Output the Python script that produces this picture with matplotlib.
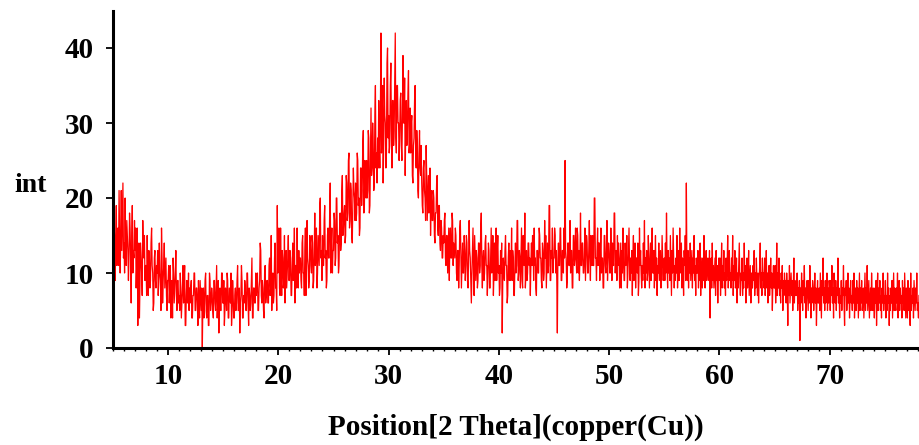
import numpy as np
import matplotlib
matplotlib.use("Agg")
import matplotlib.pyplot as plt
from matplotlib.ticker import MultipleLocator

# 2-theta start / step of the scan (degrees)
theta_start = 5.0
theta_step = 0.05

# intensity readings, 20 per degree (5.00 ... 78.10)
intensity = [
    12, 8, 17, 14, 9, 15, 19, 11, 13, 16, 11, 21, 16, 10, 14, 21, 13, 18, 22, 12,
    14, 10, 20, 13, 11, 17, 15, 13, 9, 12, 18, 16, 12, 6, 15, 19, 10, 13, 12, 17,
    13, 16, 8, 11, 16, 3, 11, 14, 4, 9, 14, 12, 10, 7, 17, 13, 12, 15, 9, 11,
    11, 7, 15, 10, 7, 13, 12, 8, 9, 14, 16, 11, 10, 5, 6, 12, 13, 9, 8, 11,
    10, 13, 7, 9, 14, 10, 9, 5, 16, 12, 6, 9, 11, 14, 8, 10, 12, 7, 5, 9,
    9, 11, 6, 8, 11, 4, 7, 9, 4, 12, 10, 6, 8, 10, 13, 7, 5, 9, 9, 6,
    7, 5, 10, 8, 4, 6, 8, 11, 6, 9, 11, 3, 3, 7, 9, 6, 7, 10, 5, 8,
    6, 8, 9, 4, 4, 7, 7, 10, 10, 5, 5, 8, 8, 6, 3, 9, 6, 4, 9, 7,
    5, 8, 0, 6, 8, 4, 6, 9, 10, 5, 4, 7, 7, 3, 3, 10, 9, 5, 6, 8,
    7, 5, 4, 9, 9, 6, 5, 8, 11, 4, 6, 9, 2, 7, 8, 5, 5, 10, 10, 6,
    6, 9, 3, 5, 8, 7, 5, 10, 9, 4, 4, 8, 7, 6, 10, 3, 5, 9, 7, 4,
    4, 7, 8, 5, 6, 9, 11, 5, 5, 8, 2, 6, 7, 11, 9, 4, 4, 7, 6, 9,
    8, 5, 5, 10, 10, 6, 3, 8, 7, 5, 6, 9, 12, 4, 4, 8, 8, 6, 6, 10,
    7, 9, 10, 5, 5, 8, 9, 14, 13, 7, 6, 9, 8, 5, 4, 10, 11, 6, 7, 9,
    9, 6, 6, 11, 12, 7, 8, 15, 5, 9, 10, 6, 7, 12, 14, 8, 8, 5, 19, 10,
    11, 16, 8, 7, 16, 10, 7, 13, 12, 8, 9, 15, 6, 10, 13, 8, 10, 12, 15, 9,
    9, 13, 12, 7, 7, 11, 14, 9, 10, 16, 6, 11, 11, 8, 16, 10, 8, 13, 10, 12,
    12, 9, 8, 14, 15, 10, 10, 7, 13, 16, 7, 11, 17, 12, 11, 8, 9, 15, 14, 11,
    10, 15, 14, 8, 9, 13, 18, 11, 12, 16, 8, 10, 15, 13, 11, 19, 20, 12, 13, 9,
    15, 11, 11, 17, 19, 12, 13, 8, 9, 15, 16, 12, 12, 18, 22, 10, 14, 16, 10, 13,
    13, 18, 17, 11, 12, 20, 20, 14, 15, 10, 11, 16, 18, 13, 14, 21, 23, 15, 16, 18,
    19, 14, 15, 23, 22, 17, 18, 25, 26, 16, 17, 22, 21, 15, 14, 19, 24, 21, 20, 17,
    22, 17, 18, 26, 25, 19, 20, 15, 16, 24, 24, 19, 21, 27, 29, 18, 19, 25, 23, 20,
    25, 20, 21, 29, 28, 18, 19, 26, 32, 23, 24, 30, 27, 21, 22, 31, 35, 24, 26, 22,
    28, 24, 33, 27, 24, 31, 42, 26, 29, 35, 22, 27, 36, 31, 30, 24, 26, 38, 40, 28,
    31, 26, 27, 35, 38, 29, 24, 33, 33, 27, 29, 36, 42, 28, 26, 35, 35, 30, 30, 25,
    28, 33, 34, 27, 25, 31, 39, 30, 30, 36, 23, 29, 33, 27, 29, 34, 37, 26, 27, 32,
    26, 30, 31, 23, 22, 27, 28, 33, 35, 25, 24, 29, 27, 21, 20, 26, 29, 24, 23, 27,
    22, 19, 18, 24, 25, 21, 20, 17, 27, 23, 17, 20, 23, 18, 19, 24, 15, 19, 21, 17,
    17, 21, 20, 15, 14, 18, 18, 22, 23, 16, 15, 19, 19, 14, 13, 17, 16, 12, 12, 15,
    14, 17, 18, 12, 11, 15, 15, 10, 13, 16, 9, 14, 16, 12, 12, 18, 17, 11, 14, 13,
    12, 16, 15, 10, 9, 13, 13, 8, 11, 16, 17, 12, 8, 11, 14, 10, 10, 15, 13, 9,
    11, 15, 14, 9, 8, 12, 17, 13, 12, 9, 6, 10, 13, 16, 10, 7, 15, 12, 9, 13,
    12, 8, 9, 14, 14, 10, 11, 16, 18, 11, 8, 12, 13, 9, 10, 14, 15, 11, 11, 7,
    10, 14, 13, 8, 8, 12, 16, 10, 11, 15, 7, 10, 14, 9, 12, 16, 9, 13, 15, 10,
    11, 7, 8, 13, 10, 14, 2, 9, 12, 10, 9, 13, 15, 11, 11, 6, 7, 12, 14, 9,
    13, 9, 10, 16, 9, 13, 12, 7, 7, 11, 14, 10, 11, 17, 17, 9, 10, 13, 12, 8,
    12, 16, 9, 8, 15, 12, 11, 18, 8, 10, 13, 9, 10, 14, 14, 11, 12, 7, 11, 14,
    11, 15, 14, 9, 16, 11, 12, 8, 7, 13, 13, 10, 10, 16, 15, 12, 12, 9, 8, 14,
    13, 9, 10, 17, 12, 15, 8, 11, 14, 10, 11, 19, 19, 9, 9, 13, 12, 16, 10, 12,
    12, 16, 15, 10, 13, 9, 2, 12, 14, 11, 11, 16, 16, 9, 9, 13, 13, 10, 16, 12,
    25, 13, 12, 8, 9, 14, 14, 11, 11, 17, 10, 13, 13, 8, 8, 15, 15, 11, 12, 16,
    12, 10, 16, 15, 10, 13, 9, 12, 18, 11, 11, 14, 14, 10, 10, 12, 16, 9, 12, 15,
    14, 10, 10, 13, 17, 12, 9, 15, 12, 11, 15, 11, 11, 20, 20, 12, 12, 9, 13, 16,
    11, 14, 14, 9, 13, 16, 10, 12, 12, 8, 8, 15, 15, 11, 10, 13, 17, 9, 12, 14,
    13, 10, 10, 16, 12, 9, 14, 11, 11, 18, 18, 10, 12, 13, 9, 15, 11, 14, 12, 8,
    11, 14, 8, 13, 10, 16, 12, 9, 9, 14, 11, 12, 15, 8, 10, 13, 16, 11, 9, 12,
    10, 13, 7, 12, 15, 9, 11, 14, 8, 12, 12, 10, 14, 7, 9, 16, 11, 13, 10, 8,
    11, 9, 14, 10, 17, 8, 12, 10, 13, 9, 10, 15, 12, 8, 11, 14, 9, 12, 16, 10,
    10, 13, 8, 11, 15, 9, 12, 7, 11, 10, 14, 9, 11, 13, 8, 10, 15, 12, 9, 11,
    12, 9, 14, 10, 18, 11, 8, 13, 10, 12, 9, 15, 11, 7, 13, 10, 16, 12, 8, 11,
    9, 12, 10, 15, 8, 11, 13, 9, 16, 10, 11, 14, 8, 12, 10, 7, 13, 11, 15, 9,
    22, 11, 9, 13, 8, 12, 10, 14, 9, 11, 13, 8, 12, 10, 15, 9, 11, 7, 12, 10,
    10, 13, 8, 11, 9, 14, 7, 12, 10, 8, 12, 9, 15, 10, 8, 11, 13, 9, 10, 12,
    11, 9, 13, 4, 10, 12, 8, 14, 9, 11, 8, 10, 12, 7, 13, 9, 11, 6, 10, 12,
    9, 12, 7, 10, 14, 8, 11, 9, 13, 8, 10, 7, 12, 9, 11, 15, 8, 10, 13, 9,
    10, 8, 12, 9, 15, 7, 11, 9, 13, 8, 9, 12, 6, 10, 8, 11, 14, 9, 7, 10,
    9, 12, 7, 10, 8, 14, 9, 11, 6, 10, 12, 8, 10, 13, 7, 9, 11, 6, 10, 8,
    8, 11, 9, 13, 7, 10, 8, 12, 9, 7, 10, 6, 9, 11, 14, 8, 10, 7, 12, 9,
    10, 8, 12, 7, 9, 13, 8, 10, 6, 9, 11, 7, 9, 12, 8, 10, 5, 9, 11, 8,
    8, 11, 6, 9, 14, 7, 10, 8, 12, 7, 9, 6, 10, 8, 11, 5, 9, 7, 10, 8,
    9, 6, 10, 8, 3, 9, 7, 11, 6, 8, 10, 7, 9, 5, 8, 12, 6, 9, 7, 8,
    7, 10, 5, 8, 6, 9, 1, 8, 6, 10, 7, 5, 9, 7, 11, 6, 8, 4, 7, 9,
    7, 5, 9, 6, 11, 7, 4, 8, 6, 9, 8, 5, 7, 10, 6, 8, 3, 7, 9, 6,
    6, 8, 5, 10, 7, 4, 9, 7, 12, 6, 8, 5, 9, 6, 7, 10, 5, 8, 6, 9,
    8, 5, 9, 7, 11, 6, 8, 4, 10, 7, 6, 9, 5, 8, 7, 12, 6, 8, 4, 7,
    6, 9, 5, 8, 7, 11, 6, 3, 8, 7, 9, 5, 7, 10, 6, 8, 4, 7, 9, 6,
    7, 5, 9, 6, 10, 4, 7, 8, 5, 9, 6, 8, 4, 7, 10, 5, 8, 6, 9, 5,
    6, 8, 4, 7, 10, 5, 8, 6, 11, 5, 7, 9, 4, 6, 8, 5, 10, 7, 5, 8,
    7, 4, 8, 6, 9, 3, 7, 10, 5, 8, 6, 9, 5, 7, 4, 8, 6, 10, 5, 7,
    6, 9, 4, 7, 5, 10, 6, 8, 3, 7, 5, 8, 6, 9, 4, 7, 10, 5, 8, 6,
    5, 8, 6, 10, 4, 7, 9, 5, 8, 6, 7, 4, 9, 6, 8, 5, 10, 7, 4, 8,
    7, 4, 9, 5, 8, 6, 3, 10, 5, 7, 6, 8, 4, 9, 7, 5, 8, 6, 10, 5,
    6, 4, 7,
]

x_ticks = [10, 20, 30, 40, 50, 60, 70]
y_ticks = [0, 10, 20, 30, 40]
x_label = "Position[2 Theta](copper(Cu))"
y_label = "int"

theta = theta_start + theta_step * np.arange(len(intensity))

plt.rcParams['font.family'] = ['Liberation Serif', 'DejaVu Serif']
plt.rcParams['font.weight'] = 'bold'

fig = plt.figure(figsize=(9.19, 4.45), dpi=100)
ax = fig.add_axes([113/919, 97/445, 1 - 113/919, (348 - 10.5)/445])

ax.plot(theta, intensity, color='#ff0000', linewidth=0.9)

ax.set_xlim(5.0, 78.1)
ax.set_ylim(0, 45)
ax.set_xticks(x_ticks)
ax.set_yticks(y_ticks)
ax.xaxis.set_minor_locator(MultipleLocator(1))

for s in ['top', 'right']:
    ax.spines[s].set_visible(False)
for s in ['left', 'bottom']:
    ax.spines[s].set_linewidth(2.2)
    ax.spines[s].set_color('black')

ax.tick_params(axis='both', which='major', direction='out', length=5, width=1.3,
               labelsize=21, colors='black')
ax.tick_params(axis='x', which='major', pad=6)
ax.tick_params(axis='y', which='major', pad=9)
ax.tick_params(axis='x', which='minor', direction='out', length=2.5, width=1.0)
for lab in ax.get_xticklabels() + ax.get_yticklabels():
    lab.set_fontweight('bold')

ax.set_xlabel(x_label, fontsize=21, fontweight='bold', labelpad=17)
fig.text(14/919, 1 - 186/445, y_label, fontsize=20, fontweight='bold',
         ha='left', va='center')

fig.savefig('out.png', dpi=100)
